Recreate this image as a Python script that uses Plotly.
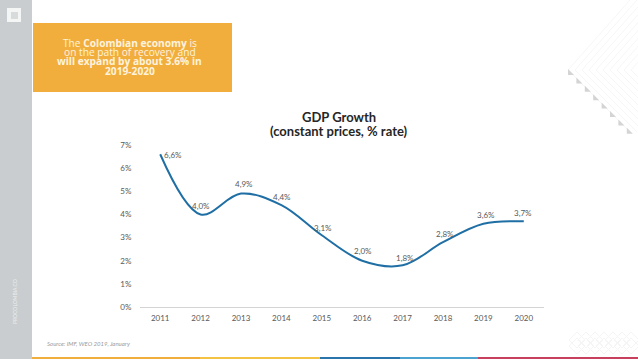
import plotly.graph_objects as go

W, H = 638, 359
years = ["2011", "2012", "2013", "2014", "2015", "2016", "2017", "2018", "2019", "2020"]
growth = [6.6, 4.0, 4.9, 4.4, 3.1, 2.0, 1.8, 2.8, 3.6, 3.7]
labels = ["6,6%", "4,0%", "4,9%", "4,4%", "3,1%", "2,0%", "1,8%", "2,8%", "3,6%", "3,7%"]
label_dx = [13, 0, 3, 1, 1, 1, 2, 2, 3, -1]
label_dy = [-1, 8, 10, 8, 7, 10, 7, 8, 9, 8]
y_ticks = [0, 1, 2, 3, 4, 5, 6, 7]
y_tick_text = ["0%", "1%", "2%", "3%", "4%", "5%", "6%", "7%"]

def px(x): return x / W
def py(y): return 1 - y / H

FONT = "Lato"
fig = go.Figure(go.Scatter(
    x=years, y=growth, mode="lines",
    line=dict(color="#1f6fa5", width=2, shape="spline", smoothing=1.0),
    hoverinfo="skip", showlegend=False))

shapes = [
    dict(type="rect", xref="paper", yref="paper", x0=0, x1=px(32), y0=0, y1=1,
         fillcolor="#c9cdcf", line_width=0, layer="below"),
    dict(type="rect", xref="paper", yref="paper", x0=px(33), x1=px(232), y0=py(92), y1=py(23),
         fillcolor="#f2ae3d", line_width=0, layer="below"),
    dict(type="rect", xref="paper", yref="paper", x0=px(7), x1=px(21), y0=py(22), y1=py(8),
         fillcolor="#f4f5f5", line_width=0),
    dict(type="rect", xref="paper", yref="paper", x0=px(11), x1=px(18), y0=py(19), y1=py(12),
         fillcolor="#d8dbdc", line_width=0),
]
# bottom colour band
for x0, x1, c in [(32, 200, "#f2ae3d"), (200, 320, "#f5c343"), (320, 400, "#2a75ab"),
                  (400, 478, "#4ba3cf"), (478, 638, "#c7415f")]:
    shapes.append(dict(type="rect", xref="paper", yref="paper", x0=px(x0), x1=px(x1),
                       y0=0, y1=py(357), fillcolor=c, line_width=0))
# faint chevrons, top right
for i in range(10):
    x = 568 + i * 7
    shapes.append(dict(type="path", xref="paper", yref="paper",
                       path=f"M {px(x+62)} {py(0)} L {px(x)} {py(70)} L {px(x+62)} {py(132)}",
                       line=dict(color="#f6f6f6", width=1), layer="below"))
# small grey triangles
for i in range(8):
    x, y = 568 + i * 8.4, 69 + i * 8.4
    shapes.append(dict(type="path", xref="paper", yref="paper",
                       path=f"M {px(x)} {py(y)} L {px(x)} {py(y+6)} L {px(x+6)} {py(y+6)} Z",
                       fillcolor="#d4d4d4", line_width=0))
# faint watermark, bottom right
for i in range(7):
    cx = 577 + i * 9
    for cy in (340, 346):
        shapes.append(dict(type="path", xref="paper", yref="paper",
                           path=f"M {px(cx-8)} {py(cy)} L {px(cx)} {py(cy-8)} L {px(cx+8)} {py(cy)} L {px(cx)} {py(cy+8)} Z",
                           line=dict(color="#f5f5f5", width=1), layer="below"))

annotations = []
for i, (v, t, dx, dy) in enumerate(zip(growth, labels, label_dx, label_dy)):
    annotations.append(dict(xref="x", yref="y", x=i, y=v, text=t, showarrow=False,
                            xshift=dx, yshift=dy, xanchor="center", yanchor="middle",
                            font=dict(family=FONT, size=8, color="#595959")))

def note(x, y, text, xanchor="center", **kw):
    font = kw.pop("font")
    annotations.append(dict(xref="paper", yref="paper", x=px(x), y=py(y), text=text,
                            showarrow=False, font=font, xanchor=xanchor, yanchor="middle", **kw))

box_font = dict(family="Open Sans", size=10.2, color="#fdf3df")
for y, t in [(43, "The <b>Colombian economy</b> is"), (52, "on the path of recovery and"),
             (61, "<b>will expand by about 3.6% in</b>"), (71, "<b>2019-2020</b>")]:
    note(129.5, y, t, font=box_font)
note(339, 117, "<b>GDP Growth</b>", font=dict(family=FONT, size=13, color="#262626"))
note(339, 131, "<b>(constant prices, % rate)</b>", font=dict(family=FONT, size=13, color="#262626"))
note(45, 343, "<i>Source: IMF, WEO 2019, January</i>", xanchor="left",
     font=dict(family=FONT, size=6, color="#9a9a9a"))
note(15, 302, "PROCOLOMBIA.CO", textangle=-90, font=dict(family=FONT, size=5, color="#eceeee"))

fig.update_layout(
    width=W, height=H, margin=dict(l=0, r=0, t=0, b=0, pad=0, autoexpand=False),
    paper_bgcolor="white", plot_bgcolor="white", showlegend=False,
    shapes=shapes, annotations=annotations,
    font=dict(family=FONT, size=8, color="#595959"),
    xaxis=dict(domain=[px(140), px(544)], type="category", range=[-0.5, 9.5],
               showgrid=False, ticks="outside", ticklen=3, tickcolor="rgba(0,0,0,0)",
               showline=True, linecolor="#d4d4d4", linewidth=1,
               tickfont=dict(family=FONT, size=8, color="#595959"), zeroline=False),
    yaxis=dict(domain=[py(307), py(145)], range=[0, 7], tickvals=y_ticks, ticktext=y_tick_text,
               showgrid=False, ticks="outside", ticklen=6, tickcolor="rgba(0,0,0,0)",
               showline=False, zeroline=False,
               tickfont=dict(family=FONT, size=8, color="#595959")),
)
fig.write_html("out.html", config=dict(displayModeBar=False),
               post_script="document.body.style.margin='0';document.body.style.overflow='hidden';")
